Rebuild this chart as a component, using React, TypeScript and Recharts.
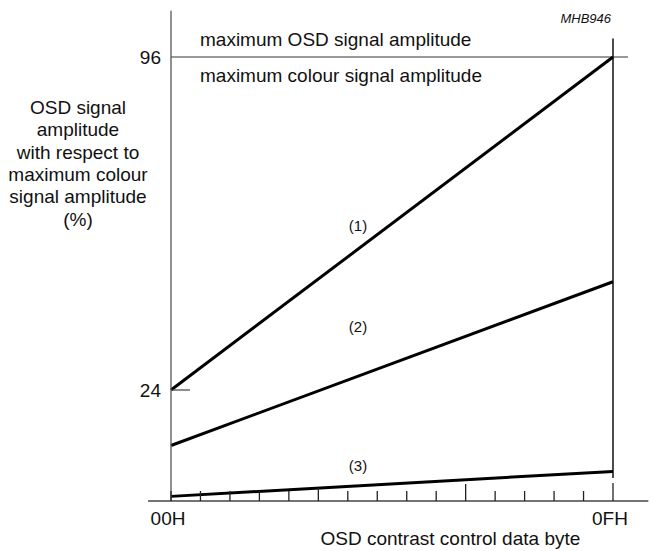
import { LineChart, Line, XAxis, YAxis, ReferenceLine } from 'recharts'

const xValues = [0, 15]
const line1 = [24, 96]
const line2 = [12, 47.4]
const line3 = [1, 6.4]
const xTicks = [0, 1, 2, 3, 4, 5, 6, 7, 8, 9, 10, 11, 12, 13, 14, 15]
const xTickLabels: Record<number, string> = { 0: '00H', 15: '0FH' }
const yTicks = [24, 96]
const titleLines = ['OSD signal', 'amplitude', 'with respect to', 'maximum colour', 'signal amplitude', '(%)']

const data = xValues.map((x, i) => ({ x, l1: line1[i], l2: line2[i], l3: line3[i] }))

const FONT = '"Liberation Sans", Arial, Helvetica, sans-serif'

function XTick({ x, y, payload }: any) {
  const v = payload.value
  const h = v === 15 ? 18 : v === 10 ? 17 : v === 5 ? 13 : 10
  const label = xTickLabels[v]
  return (
    <g>
      <line x1={x} y1={y} x2={x} y2={y - h} stroke="#222" strokeWidth={1.3} />
      {label && (
        <text x={x - 3} y={y + 24} textAnchor="middle" fontSize={19} fontFamily={FONT} fill="#111">{label}</text>
      )}
    </g>
  )
}

function YTick({ x, y, payload }: any) {
  return (
    <g>
      {payload.value === 24 && <line x1={x} y1={y} x2={x + 19} y2={y} stroke="#444" strokeWidth={1.2} />}
      <text x={x - 10} y={y + 6.5} textAnchor="end" fontSize={19} fontFamily={FONT} fill="#111">{payload.value}</text>
    </g>
  )
}

export default function App() {
  return (
    <div style={{ position: 'relative', width: 651, height: 551, background: '#fff' }}>
      <style>{'body{margin:0}'}</style>
      <LineChart width={651} height={551} data={data} margin={{ top: 10.75, right: 38, bottom: 0, left: 111 }}>
        <XAxis dataKey="x" type="number" domain={[0, 15]} ticks={xTicks} axisLine={false}
          tickSize={0} tickMargin={0} tickLine={false} tick={<XTick />} height={50} interval={0} />
        <YAxis type="number" domain={[0, 106]} ticks={yTicks} width={60}
          axisLine={{ stroke: '#555', strokeWidth: 1.3 }} tickLine={false} tickSize={0} tickMargin={0} tick={<YTick />} />
        <ReferenceLine segment={[{ x: -0.78, y: 0 }, { x: 16.2, y: 0 }]} stroke="#444" strokeWidth={1.3} ifOverflow="visible" />
        <ReferenceLine segment={[{ x: 0, y: 96 }, { x: 15.51, y: 96 }]} stroke="#777" strokeWidth={1.3} ifOverflow="visible" />
        <ReferenceLine segment={[{ x: 15, y: 5 }, { x: 15, y: 100 }]} stroke="#111" strokeWidth={1.5} ifOverflow="visible" />
        <Line dataKey="l1" stroke="#000" strokeWidth={3} dot={false} isAnimationActive={false} />
        <Line dataKey="l2" stroke="#000" strokeWidth={3} dot={false} isAnimationActive={false} />
        <Line dataKey="l3" stroke="#000" strokeWidth={3} dot={false} isAnimationActive={false} />
      </LineChart>
      <svg width={651} height={551} style={{ position: 'absolute', left: 0, top: 0, pointerEvents: 'none' }}
        fontFamily={FONT} fill="#111">
        {titleLines.map((t, i) => (
          <text key={t} x={78} y={114 + 22.3 * i} textAnchor="middle" fontSize={19}>{t}</text>
        ))}
        <text x={200} y={45.7} fontSize={19}>maximum OSD signal amplitude</text>
        <text x={200} y={81.5} fontSize={19}>maximum colour signal amplitude</text>
        <text x={611} y={23} textAnchor="end" fontSize={13} fontStyle="italic">MHB946</text>
        <text x={358} y={231} textAnchor="middle" fontSize={15}>(1)</text>
        <text x={358} y={332} textAnchor="middle" fontSize={15}>(2)</text>
        <text x={358} y={471} textAnchor="middle" fontSize={15}>(3)</text>
        <text x={450.4} y={545} textAnchor="middle" fontSize={19}>OSD contrast control data byte</text>
      </svg>
    </div>
  )
}
